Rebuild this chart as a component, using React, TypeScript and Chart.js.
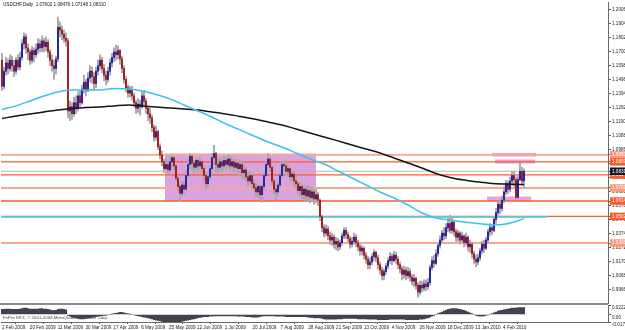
import React, { useEffect, useRef } from 'react';
import { Chart, registerables } from 'chart.js';

Chart.register(...registerables);

const SYMBOL_TITLE = 'USDCHF,Daily  1.07602 1.08478 1.07148 1.08310';
const COPYRIGHT = 'FxPro MT4, \u00A9 2001-2008 MetaQuotes Software Corp.';

// Daily candles (open of each bar = previous close)
const FIRST_OPEN = 1.1640;
const closes = [
  1.1450,1.1560,1.1620,1.1580,1.1640,1.1600,1.1560,1.1640,1.1590,1.1660,
  1.1760,1.1810,1.1730,1.1700,1.1640,1.1710,1.1680,1.1720,1.1760,1.1730,
  1.1780,1.1740,1.1770,1.1700,1.1640,1.1600,1.1580,1.1650,1.1880,1.1860,
  1.1830,1.1800,1.1780,1.1270,1.1300,1.1250,1.1330,1.1290,1.1380,1.1330,
  1.1430,1.1480,1.1420,1.1510,1.1560,1.1520,1.1470,1.1560,1.1600,1.1640,
  1.1580,1.1530,1.1500,1.1560,1.1620,1.1660,1.1700,1.1680,1.1710,1.1650,
  1.1580,1.1500,1.1440,1.1400,1.1420,1.1380,1.1330,1.1290,1.1320,1.1300,
  1.1380,1.1340,1.1290,1.1250,1.1220,1.1150,1.1080,1.1120,1.1010,1.0950,
  1.0900,1.0850,1.0880,1.0840,1.0900,1.0930,1.0870,1.0780,1.0720,1.0670,
  1.0730,1.0700,1.0800,1.0880,1.0940,1.0890,1.0860,1.0910,1.0870,1.0900,
  1.0850,1.0800,1.0740,1.0790,1.0850,1.0930,1.0960,1.0880,1.0860,1.0900,
  1.0870,1.0910,1.0880,1.0920,1.0870,1.0900,1.0860,1.0890,1.0850,1.0880,
  1.0820,1.0840,1.0790,1.0760,1.0800,1.0740,1.0710,1.0680,1.0720,1.0660,
  1.0720,1.0800,1.0880,1.0920,1.0860,1.0760,1.0700,1.0680,1.0730,1.0800,
  1.0880,1.0870,1.0830,1.0850,1.0790,1.0810,1.0760,1.0740,1.0690,1.0720,
  1.0660,1.0700,1.0650,1.0690,1.0640,1.0680,1.0630,1.0660,1.0620,1.0500,
  1.0420,1.0380,1.0410,1.0360,1.0330,1.0350,1.0300,1.0320,1.0280,1.0310,
  1.0360,1.0400,1.0370,1.0340,1.0300,1.0320,1.0350,1.0310,1.0280,1.0250,
  1.0270,1.0220,1.0190,1.0150,1.0170,1.0210,1.0240,1.0200,1.0150,1.0110,
  1.0070,1.0100,1.0140,1.0180,1.0210,1.0180,1.0220,1.0190,1.0150,1.0120,
  1.0080,1.0110,1.0070,1.0100,1.0060,1.0030,1.0050,1.0000,0.9950,1.0000,
  0.9980,1.0010,0.9990,1.0020,1.0130,1.0180,1.0160,1.0230,1.0290,1.0330,
  1.0380,1.0360,1.0420,1.0450,1.0400,1.0460,1.0390,1.0350,1.0380,1.0330,
  1.0360,1.0310,1.0350,1.0280,1.0300,1.0230,1.0190,1.0170,1.0200,1.0250,
  1.0300,1.0270,1.0330,1.0390,1.0420,1.0400,1.0480,1.0530,1.0590,1.0560,
  1.0620,1.0680,1.0740,1.0700,1.0760,1.0800,1.0770,1.0640,1.0770,1.0830,
  1.0760,1.0831,
];
const highs = [
  1.1690,1.1590,1.1660,1.1650,1.1680,1.1670,1.1640,1.1660,1.1680,1.1700,
  1.1790,1.1840,1.1830,1.1760,1.1720,1.1740,1.1730,1.1760,1.1800,1.1790,
  1.1820,1.1800,1.1810,1.1790,1.1720,1.1680,1.1640,1.1670,1.1955,1.1920,
  1.1890,1.1860,1.1840,1.1800,1.1340,1.1330,1.1370,1.1380,1.1410,1.1420,
  1.1460,1.1530,1.1500,1.1550,1.1600,1.1590,1.1550,1.1590,1.1640,1.1680,
  1.1660,1.1610,1.1560,1.1590,1.1650,1.1690,1.1730,1.1750,1.1745,1.1720,
  1.1670,1.1600,1.1520,1.1460,1.1450,1.1450,1.1400,1.1350,1.1360,1.1350,
  1.1410,1.1420,1.1360,1.1300,1.1290,1.1240,1.1170,1.1160,1.1130,1.1030,
  1.0980,1.0920,1.0930,1.0900,1.0940,1.0950,1.0940,1.0880,1.0800,1.0740,
  1.0760,1.0760,1.0830,1.0920,1.0960,1.0950,1.0910,1.0930,1.0920,1.0930,
  1.0910,1.0870,1.0820,1.0810,1.0870,1.0960,1.1020,1.0970,1.0920,1.0930,
  1.0920,1.0940,1.0930,1.0950,1.0930,1.0940,1.0920,1.0920,1.0900,1.0910,
  1.0900,1.0870,1.0860,1.0820,1.0830,1.0810,1.0770,1.0740,1.0740,1.0730,
  1.0740,1.0820,1.0900,1.0960,1.0930,1.0870,1.0780,1.0730,1.0750,1.0820,
  1.0900,1.0910,1.0890,1.0880,1.0860,1.0840,1.0830,1.0790,1.0760,1.0750,
  1.0730,1.0730,1.0720,1.0730,1.0710,1.0720,1.0700,1.0700,1.0680,1.0630,
  1.0510,1.0440,1.0440,1.0430,1.0390,1.0380,1.0370,1.0350,1.0340,1.0330,
  1.0380,1.0420,1.0420,1.0390,1.0360,1.0350,1.0380,1.0370,1.0330,1.0300,
  1.0290,1.0280,1.0240,1.0210,1.0200,1.0230,1.0260,1.0250,1.0220,1.0170,
  1.0130,1.0120,1.0160,1.0200,1.0240,1.0230,1.0250,1.0240,1.0210,1.0170,
  1.0140,1.0140,1.0130,1.0130,1.0120,1.0080,1.0080,1.0060,1.0020,1.0030,
  1.0030,1.0040,1.0040,1.0050,1.0150,1.0210,1.0220,1.0260,1.0310,1.0360,
  1.0400,1.0420,1.0450,1.0490,1.0510,1.0500,1.0470,1.0410,1.0400,1.0390,
  1.0390,1.0370,1.0380,1.0360,1.0330,1.0310,1.0250,1.0220,1.0230,1.0270,
  1.0320,1.0330,1.0350,1.0410,1.0450,1.0440,1.0500,1.0560,1.0610,1.0620,
  1.0650,1.0720,1.0765,1.0760,1.0790,1.0830,1.0830,1.0790,1.0800,1.0890,
  1.0860,1.0848,
];
const lows = [
  1.1420,1.1430,1.1530,1.1540,1.1560,1.1560,1.1520,1.1540,1.1570,1.1570,
  1.1640,1.1720,1.1690,1.1640,1.1610,1.1620,1.1630,1.1660,1.1690,1.1700,
  1.1700,1.1700,1.1710,1.1660,1.1600,1.1560,1.1500,1.1540,1.1630,1.1810,
  1.1790,1.1770,1.1740,1.1220,1.1200,1.1210,1.1230,1.1250,1.1270,1.1300,
  1.1320,1.1400,1.1380,1.1410,1.1480,1.1470,1.1420,1.1440,1.1530,1.1570,
  1.1550,1.1490,1.1460,1.1480,1.1530,1.1590,1.1630,1.1640,1.1650,1.1610,
  1.1550,1.1470,1.1410,1.1370,1.1370,1.1350,1.1300,1.1250,1.1260,1.1240,
  1.1290,1.1310,1.1250,1.1200,1.1180,1.1120,1.1050,1.1060,1.0990,1.0920,
  1.0870,1.0820,1.0840,1.0810,1.0830,1.0860,1.0840,1.0760,1.0690,1.0610,
  1.0650,1.0660,1.0690,1.0780,1.0850,1.0840,1.0820,1.0840,1.0830,1.0850,
  1.0820,1.0760,1.0700,1.0710,1.0770,1.0820,1.0880,1.0830,1.0820,1.0840,
  1.0830,1.0850,1.0840,1.0860,1.0830,1.0850,1.0820,1.0840,1.0800,1.0820,
  1.0780,1.0770,1.0760,1.0720,1.0740,1.0710,1.0680,1.0650,1.0640,1.0630,
  1.0605,1.0700,1.0790,1.0860,1.0830,1.0730,1.0660,1.0620,1.0650,1.0710,
  1.0780,1.0830,1.0800,1.0790,1.0760,1.0750,1.0720,1.0700,1.0660,1.0650,
  1.0630,1.0620,1.0620,1.0610,1.0600,1.0610,1.0590,1.0600,1.0580,1.0470,
  1.0390,1.0350,1.0360,1.0330,1.0300,1.0290,1.0270,1.0260,1.0250,1.0260,
  1.0290,1.0340,1.0340,1.0310,1.0270,1.0280,1.0300,1.0280,1.0250,1.0220,
  1.0220,1.0190,1.0160,1.0120,1.0120,1.0150,1.0180,1.0170,1.0120,1.0080,
  1.0040,1.0040,1.0080,1.0120,1.0160,1.0150,1.0170,1.0160,1.0120,1.0090,
  1.0040,1.0050,1.0040,1.0050,1.0030,1.0000,0.9990,0.9970,0.9914,0.9930,
  0.9950,0.9960,0.9960,0.9970,1.0000,1.0110,1.0130,1.0150,1.0210,1.0270,
  1.0310,1.0330,1.0340,1.0390,1.0380,1.0380,1.0360,1.0320,1.0320,1.0300,
  1.0310,1.0280,1.0290,1.0250,1.0240,1.0200,1.0160,1.0135,1.0150,1.0180,
  1.0230,1.0240,1.0260,1.0310,1.0360,1.0370,1.0390,1.0450,1.0500,1.0520,
  1.0540,1.0600,1.0660,1.0670,1.0680,1.0730,1.0720,1.0620,1.0630,1.0760,
  1.0740,1.0715,
];

// Moving averages, sampled at these bar numbers
const maBars = [0,7,14,21,28,35,42,49,56,63,70,77,84,91,98,105,112,119,126,133,140,147,154,161,168,175,182,189,196,203,210,217,224,231,238,245,252,259,261];
const maFast = [1.1281,1.1307,1.1343,1.1379,1.1409,1.1423,1.1423,1.1423,1.1434,1.1430,1.1416,1.1390,1.1358,1.1314,1.1270,1.1226,1.1175,1.1132,1.1088,1.1044,1.1008,1.0964,1.0920,1.0884,1.0833,1.0782,1.0731,1.0680,1.0636,1.0585,1.0527,1.0491,1.0476,1.0461,1.0450,1.0440,1.0447,1.0476,1.0488];
const maSlow = [1.1215,1.1234,1.1248,1.1263,1.1277,1.1288,1.1296,1.1299,1.1307,1.1314,1.1307,1.1299,1.1292,1.1285,1.1277,1.1263,1.1248,1.1230,1.1212,1.1190,1.1168,1.1139,1.1110,1.1081,1.1052,1.1022,1.0993,1.0964,1.0928,1.0891,1.0855,1.0815,1.0786,1.0767,1.0753,1.0742,1.0738,1.0735,1.0733];

// MACD histogram, in thousandths
const macdHist = [
  12,12,13,13,13,12,12,12,12,13,14,15,15,14,13,13,13,13,13,14,14,13,13,12,11,10,9,10,12,13,13,12,11,
  -2,-4,-6,-7,-8,-9,-10,-10,-10,-9,-8,-8,-7,-6,-5,-4,-3,-3,-2,-2,-1,0,1,
  2,3,4,5,5,4,3,
  2,1,0,-1,-2,-3,-4,-5,
  -6,-7,-8,-9,-10,-12,-13,-14,-15,-16,-17,-18,-18,-19,-19,-19,-18,-18,-17,-16,-15,-14,-13,-12,-11,-10,-9,-8,-7,-6,
  -5,-5,-5,-4,-4,-3,-3,-3,-3,-3,-3,-3,-3,-3,-3,-3,-3,-4,-4,-4,-4,-5,-5,-5,-6,-6,-6,-6,-5,-4,-3,-3,-3,-3,-3,-3,-4,-4,-4,-4,-4,-5,-5,-5,-5,-5,-5,-5,-5,-5,
  -5,-5,-6,-7,-7,-8,-8,-8,-8,-9,-10,-11,-11,-11,-11,-11,-11,-10,-10,-10,
  -9,-9,-9,-9,-9,-9,-9,-10,-10,-10,-10,-10,-11,-11,-11,-11,-11,-12,-12,-12,-12,-12,-12,-11,-11,-11,-11,-11,-11,-11,-11,-12,-12,-12,-12,-12,-12,-12,-11,-11,-10,-9,-8,-6,-4,
  -2,0,2,4,6,8,10,12,13,14,14,14,13,12,11,10,8,
  6,4,2,0,-2,-3,-4,-4,-3,-2,
  -1,0,2,4,6,8,9,10,11,12,13,14,15,15,15,16,16,16,16,
];
const MACD_MAX = 22.28;
const MACD_MIN = -17.46;

const dateLabels = ['2 Feb 2009','20 Feb 2009','11 Mar 2009','30 Mar 2009','17 Apr 2009','6 May 2009','25 May 2009','12 Jun 2009','1 Jul 2009','20 Jul 2009','7 Aug 2009','28 Aug 2009','21 Sep 2009','13 Oct 2009','4 Nov 2009','26 Nov 2009','18 Dec 2009','13 Jan 2010','4 Feb 2010'];
const DATE_STEP = 13.92;

const priceTicks = [1.2006,1.1904,1.1802,1.1700,1.1598,1.1496,1.1394,1.1292,1.1190,1.1088,1.0986,1.0884,1.0782,1.0680,1.0578,1.0476,1.0374,1.0272,1.0170,1.0068,0.9966];
const orangeLevels = [1.0899, 1.0804, 1.0614, 1.0502];
const salmonLevels = [1.0950, 1.0709, 1.0308];
const LAST_PRICE = 1.0831;
const CYAN_LEVEL = 1.0497;
const CYAN_LEVEL_END = 272.5;

// zones: [fromBar, toBar, top, bottom]
const zoneMain = [81.5, 157, 1.0960, 1.0614];
const zonesSmall = [
  [245, 267, 1.0964, 1.0939],
  [246.5, 266.5, 1.0917, 1.0888],
  [242.5, 264.5, 1.0647, 1.0614],
];

const Y_MIN = 0.9871;
const Y_MAX = 1.2064;
const X_MIN = -0.5;
const X_MAX = 303;

const FONT = 'Liberation Sans, Arial, sans-serif';
const near = (a: number, b: number) => Math.abs(a - b) < 1e-7;

function zoneDatasets(z: number[], color: string, order: number) {
  return [
    { type: 'line', data: [{ x: z[0], y: z[2] }, { x: z[1], y: z[2] }], borderWidth: 0, borderColor: 'transparent', pointRadius: 0, backgroundColor: color, fill: '+1', order },
    { type: 'line', data: [{ x: z[0], y: z[3] }, { x: z[1], y: z[3] }], borderWidth: 0, borderColor: 'transparent', pointRadius: 0, fill: false, order },
  ];
}
function hline(y: number, color: string, width: number, order: number, x1 = X_MAX) {
  return { type: 'line', data: [{ x: X_MIN, y }, { x: x1, y }], borderColor: color, borderWidth: width, pointRadius: 0, fill: false, order };
}

function mainConfig(): any {
  const opens = closes.map((_, i) => (i === 0 ? FIRST_OPEN : closes[i - 1]));
  const wicks = closes.map((c, i) => ({ x: i, y: [Math.min(lows[i], opens[i], c), Math.max(highs[i], opens[i], c)] }));
  const bodies = closes.map((c, i) => ({ x: i, y: [opens[i], c] }));
  const bodyColors = closes.map((c, i) => (c >= opens[i] ? '#2626a8' : '#a62020'));

  const datasets: any[] = [
    ...zoneDatasets(zoneMain, '#dba2e0', 30),
    ...zonesSmall.flatMap((z) => zoneDatasets(z, '#eaa2dc', 30)),
    ...salmonLevels.map((l) => hline(l, '#f8a68c', 1.8, 20)),
    ...orangeLevels.map((l) => hline(l, '#ff5a2a', 1.3, 19)),
    hline(CYAN_LEVEL, '#5ad6f2', 1.6, 18, CYAN_LEVEL_END),
    hline(LAST_PRICE, '#b8b8b8', 1, 17),
    { type: 'bar', data: wicks, backgroundColor: '#a8a8a8', barThickness: 1.2, grouped: false, order: 3 },
    { type: 'bar', data: bodies, backgroundColor: bodyColors, barThickness: 1.4, minBarLength: 1, grouped: false, order: 2 },
    { type: 'line', data: maBars.map((b, k) => ({ x: b, y: maFast[k] })), borderColor: '#38c4ee', borderWidth: 1.5, pointRadius: 0, fill: false, cubicInterpolationMode: 'monotone', order: 1 },
    { type: 'line', data: maBars.map((b, k) => ({ x: b, y: maSlow[k] })), borderColor: '#141414', borderWidth: 1.5, pointRadius: 0, fill: false, cubicInterpolationMode: 'monotone', order: 1 },
  ];

  const tickKind = (v: number) => {
    if (near(v, LAST_PRICE)) return 'last';
    if (orangeLevels.some((l) => near(l, v))) return 'orange';
    if (salmonLevels.some((l) => near(l, v))) return 'salmon';
    return 'plain';
  };
  const allTicks = [...priceTicks, ...salmonLevels, ...orangeLevels, LAST_PRICE];

  return {
    type: 'bar',
    data: { datasets },
    options: {
      animation: false,
      responsive: false,
      devicePixelRatio: 1,
      layout: { padding: { left: 1, top: 2, right: 0, bottom: 1 } },
      plugins: { legend: { display: false }, tooltip: { enabled: false }, title: { display: false } },
      scales: {
        x: { type: 'linear', min: X_MIN, max: X_MAX, offset: false, display: false },
        y: {
          type: 'linear',
          position: 'right',
          min: Y_MIN,
          max: Y_MAX,
          afterBuildTicks: (s: any) => { s.ticks = allTicks.map((v) => ({ value: v })); },
          afterFit: (s: any) => { s.width = 17; s.paddingTop = 0; s.paddingBottom = 0; },
          grid: { display: true, drawOnChartArea: false, tickLength: 3, color: '#555' },
          border: { display: true, color: '#6a6a6a', width: 1 },
          ticks: {
            autoSkip: false,
            padding: 1,
            font: { family: FONT, size: 4.6 },
            callback: (v: any) => Number(v).toFixed(5),
            color: (ctx: any) => {
              const k = tickKind(ctx.tick?.value);
              return k === 'plain' ? '#222' : '#fff';
            },
            showLabelBackdrop: (ctx: any) => tickKind(ctx.tick?.value) !== 'plain',
            backdropColor: (ctx: any) => {
              const k = tickKind(ctx.tick?.value);
              return k === 'last' ? '#121826' : k === 'orange' ? '#ff5a2a' : k === 'salmon' ? '#f79a7e' : 'transparent';
            },
            backdropPadding: { left: 2, right: 4, top: 1, bottom: 1 },
          },
        },
      },
    },
  };
}

function subConfig(): any {
  return {
    type: 'bar',
    data: {
      datasets: [
        { data: macdHist.map((v, i) => ({ x: i, y: v })), backgroundColor: '#1a1a2c', barThickness: 1, grouped: false },
      ],
    },
    options: {
      animation: false,
      responsive: false,
      devicePixelRatio: 1,
      layout: { padding: { left: 1, top: 2, right: 0, bottom: 0 } },
      plugins: { legend: { display: false }, tooltip: { enabled: false } },
      scales: {
        x: {
          type: 'linear',
          min: X_MIN,
          max: X_MAX,
          offset: false,
          position: 'bottom',
          afterBuildTicks: (s: any) => { s.ticks = dateLabels.map((_, k) => ({ value: k * DATE_STEP })); },
          afterFit: (s: any) => { s.height = 8; s.paddingLeft = 0; s.paddingRight = 0; },
          grid: { display: true, drawOnChartArea: false, tickLength: 2, color: '#555' },
          border: { display: true, color: '#6a6a6a', width: 1 },
          ticks: {
            autoSkip: false,
            maxRotation: 0,
            minRotation: 0,
            align: 'start',
            padding: 1,
            color: '#222',
            font: { family: FONT, size: 4.6 },
            callback: (_v: any, i: number) => dateLabels[i],
          },
        },
        y: {
          type: 'linear',
          position: 'right',
          min: MACD_MIN,
          max: MACD_MAX,
          afterBuildTicks: (s: any) => { s.ticks = [MACD_MAX, 0, MACD_MIN].map((v) => ({ value: v })); },
          afterFit: (s: any) => { s.width = 17; s.paddingTop = 0; s.paddingBottom = 0; },
          grid: { display: true, drawOnChartArea: false, tickLength: 3, color: '#555' },
          border: { display: true, color: '#6a6a6a', width: 1 },
          ticks: {
            autoSkip: false,
            padding: 1,
            labelOffset: 3,
            color: '#222',
            font: { family: FONT, size: 4.6 },
            callback: (v: any) => (Number(v) === 0 ? '0.00' : (Number(v) / 1000).toFixed(5)),
          },
        },
      },
    },
  };
}

export default function App() {
  const mainRef = useRef<HTMLCanvasElement>(null);
  const subRef = useRef<HTMLCanvasElement>(null);
  useEffect(() => {
    const main = new Chart(mainRef.current as HTMLCanvasElement, mainConfig());
    const sub = new Chart(subRef.current as HTMLCanvasElement, subConfig());
    return () => { main.destroy(); sub.destroy(); };
  }, []);
  const textBase: React.CSSProperties = { position: 'absolute', fontFamily: FONT, whiteSpace: 'pre', lineHeight: 1, pointerEvents: 'none' };
  return (
    <div style={{ position: 'fixed', left: 0, top: 0, width: 625, height: 330, background: '#fff', overflow: 'hidden' }}>
      <canvas ref={mainRef} width={625} height={304} style={{ position: 'absolute', left: 0, top: 0 }} />
      <canvas ref={subRef} width={625} height={27} style={{ position: 'absolute', left: 0, top: 303 }} />
      <div style={{ position: 'absolute', left: 0, top: 303, width: 608, height: 2, background: '#8a8a8a' }} />
      <div style={{ ...textBase, left: 3, top: 3, fontSize: 4.6, color: '#111' }}>{SYMBOL_TITLE}</div>
      <div style={{ ...textBase, left: 3, top: 316, fontSize: 4.4, color: '#444' }}>{COPYRIGHT}</div>
    </div>
  );
}
